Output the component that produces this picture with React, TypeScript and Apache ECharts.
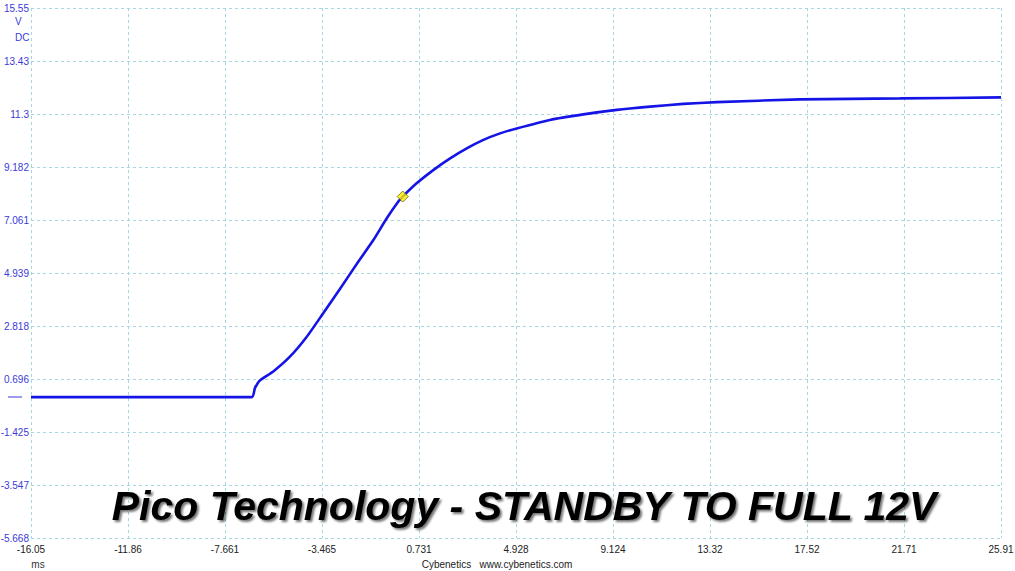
import React, { useEffect, useRef } from "react";
import * as echarts from "echarts";

const X_LABELS = ["-16.05", "-11.86", "-7.661", "-3.465", "0.731", "4.928", "9.124", "13.32", "17.52", "21.71", "25.91"];
const Y_LABELS = ["-5.668", "-3.547", "-1.425", "0.696", "2.818", "4.939", "7.061", "9.182", "11.3", "13.43", "15.55"];
const X_MIN = -16.05;
const X_MAX = 25.91;
const Y_MIN = -5.668;
const Y_MAX = 15.55;

// time (ms)
const TIME = [
  -16.05, -6.5, -6.36, -6.15, -5.57, -4.85, -4.12, -3.41, -2.68, -1.96, -1.24, -0.66, -0.16, 0.03,
  0.63, 1.35, 2.08, 2.8, 3.52, 4.24, 4.96, 6.4, 7.84, 9.29, 10.73, 12.17, 13.61, 17.22, 21.54, 25.91,
];
// voltage (V)
const VOLT = [
  -0.03, -0.03, 0.34, 0.64, 1.0, 1.59, 2.39, 3.33, 4.31, 5.3, 6.26, 7.13, 7.8, 8.0,
  8.53, 9.06, 9.53, 9.93, 10.27, 10.53, 10.73, 11.07, 11.29, 11.47, 11.6, 11.71, 11.78, 11.89, 11.93, 11.97,
];
const MARKER_T = [0.03];
const MARKER_V = [8.0];

const TITLE = "Pico Technology - STANDBY TO FULL 12V";
const UNIT_X = "ms";
const FOOTER = "Cybenetics   www.cybenetics.com";

export default function App() {
  const ref = useRef<HTMLDivElement>(null);
  useEffect(() => {
    document.body.style.margin = "0";
    const chart = echarts.init(ref.current!, null, { renderer: "svg" });
    const xStep = (X_MAX - X_MIN) / 10;
    const yStep = (Y_MAX - Y_MIN) / 10;
    const lineData = TIME.map((t, i) => [t - X_MIN, VOLT[i] - Y_MIN]);
    const markData = MARKER_T.map((t, i) => [t - X_MIN, MARKER_V[i] - Y_MIN]);
    const grid = "#a6d6e2";
    const font = "'Liberation Sans', Arial, sans-serif";
    chart.setOption({
      animation: false,
      backgroundColor: "#ffffff",
      grid: { left: 31, right: 14, top: 8, bottom: 33, containLabel: false, outerBoundsMode: "none" },
      xAxis: {
        type: "value",
        min: 0,
        max: xStep * 10,
        interval: xStep,
        axisLine: { show: false },
        axisTick: { show: false },
        axisLabel: {
          color: "#222",
          fontSize: 10,
          fontFamily: font,
          margin: 6,
          showMinLabel: true,
          showMaxLabel: true,
          formatter: (v: number) => X_LABELS[Math.round(v / xStep)] ?? "",
        },
        splitLine: { show: true, lineStyle: { color: grid, type: [3, 3], width: 1 } },
      },
      yAxis: {
        type: "value",
        min: 0,
        max: yStep * 10,
        interval: yStep,
        axisLine: { show: false },
        axisTick: { show: false },
        axisLabel: {
          color: "#3a3ad8",
          fontSize: 10,
          fontFamily: font,
          margin: 2,
          showMinLabel: true,
          showMaxLabel: true,
          formatter: (v: number) => Y_LABELS[Math.round(v / yStep)] ?? "",
        },
        splitLine: { show: true, lineStyle: { color: grid, type: [3, 3], width: 1 } },
      },
      series: [
        {
          type: "line",
          data: lineData,
          showSymbol: false,
          smooth: 0.2,
          lineStyle: { color: "#1414e6", width: 2.6 },
          z: 3,
        },
        {
          type: "scatter",
          data: markData,
          symbol: "diamond",
          symbolSize: 11,
          itemStyle: { color: "#ffee00", borderColor: "#666600", borderWidth: 1 },
          z: 4,
        },
      ],
      graphic: [
        { type: "text", left: 15, top: 16, style: { text: "V", fill: "#3a3ad8", font: `10px ${font}` } },
        { type: "text", left: 15, top: 32, style: { text: "DC", fill: "#3a3ad8", font: `10px ${font}` } },
        { type: "line", shape: { x1: 8, y1: 397, x2: 22, y2: 397 }, style: { stroke: "#3a3ad8", lineWidth: 1 } },
        {
          type: "text",
          x: 38,
          y: 564,
          style: { text: UNIT_X, fill: "#333", font: `10px ${font}`, align: "center", verticalAlign: "middle" },
        },
        {
          type: "text",
          x: 497,
          y: 564,
          style: { text: FOOTER, fill: "#222", font: `10px ${font}`, align: "center", verticalAlign: "middle" },
        },
        {
          type: "text",
          x: 524,
          y: 506,
          z: 10,
          style: {
            text: TITLE,
            font: "italic bold 41px 'Liberation Sans', Arial, sans-serif",
            align: "center",
            verticalAlign: "middle",
            fill: new echarts.graphic.LinearGradient(0, 0, 0, 1, [
              { offset: 0, color: "#5a5a5a" },
              { offset: 0.5, color: "#d8d8d8" },
              { offset: 1, color: "#2e2e2e" },
            ]),
            textShadowColor: "rgba(0,0,0,0.55)",
            textShadowBlur: 2,
            textShadowOffsetX: 2,
            textShadowOffsetY: 2,
          },
        },
      ],
    });
    return () => chart.dispose();
  }, []);
  return <div ref={ref} style={{ width: 1015, height: 571 }} />;
}
